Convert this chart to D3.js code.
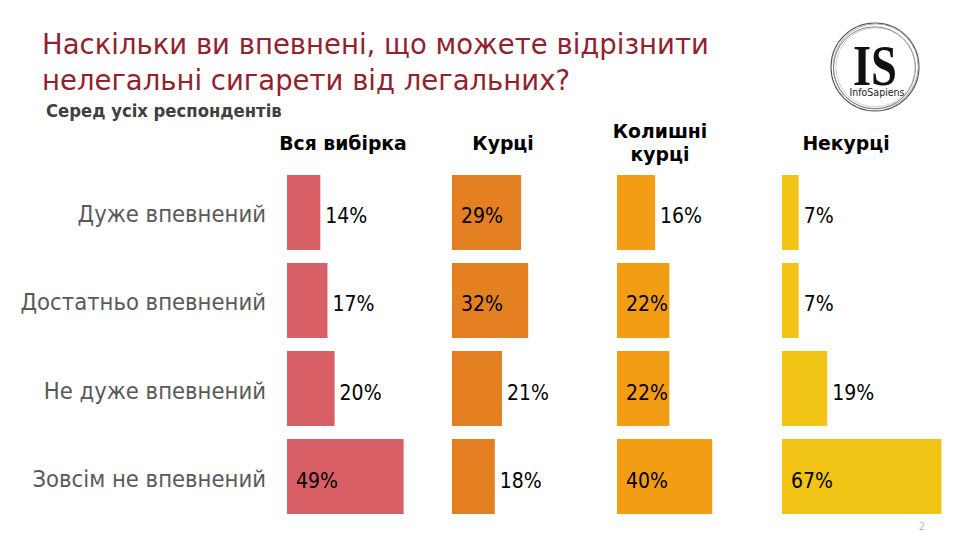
<!DOCTYPE html>
<html>
<head>
<meta charset="utf-8">
<script src="https://cdn.jsdelivr.net/npm/d3@7"></script>
<style>
  html, body { margin: 0; padding: 0; background: #fff; }
  svg { display: block; }
</style>
</head>
<body>
<svg id="chart" width="960" height="540"></svg>
<script>
// ---- data ----
const categories = ["Дуже впевнений", "Достатньо впевнений", "Не дуже впевнений", "Зовсім не впевнений"];
const groups = ["Вся вибірка", "Курці", "Колишні курці", "Некурці"];
const allRespondents = [14, 17, 20, 49];
const smokers = [29, 32, 21, 18];
const formerSmokers = [16, 22, 22, 40];
const nonSmokers = [7, 7, 19, 67];
const titleLines = ["Наскільки ви впевнені, що можете відрізнити", "нелегальні сигарети від легальних?"];
const subtitle = "Серед усіх респондентів";

// ---- style / layout ----
const seriesList = [allRespondents, smokers, formerSmokers, nonSmokers];
const colors = ["#D95F67", "#E47F22", "#F29D13", "#F1C416"];
const headerOffsets = [56, 51, 43, 64];
const condensed = "'DejaVu Sans Condensed', 'DejaVu Sans', sans-serif";

const svg = d3.select("#chart");

// Title
svg.append("g").selectAll("text").data(titleLines).join("text")
  .attr("x", 42).attr("y", (d, i) => 54 + i * 36)
  .attr("font-family", "'DejaVu Sans', sans-serif").attr("font-size", 27.5)
  .attr("fill", "#922230").text(d => d);

svg.append("text").attr("x", 46).attr("y", 117)
  .attr("font-family", condensed).attr("font-weight", "bold").attr("font-size", 18.3)
  .attr("fill", "#404040").text(subtitle);

// Scales
const x = d3.scaleLinear().domain([0, 100]).range([0, 238]);
const panelX = d3.scalePoint().domain(groups).range([287, 782]);
const y = d3.scaleBand().domain(categories).range([175, 514]).paddingInner(0.148);

// Category labels
svg.append("g").selectAll("text").data(categories).join("text")
  .attr("x", 266).attr("y", d => y(d) + y.bandwidth() / 2 + 10)
  .attr("text-anchor", "end")
  .attr("font-family", condensed).attr("font-size", 23.6)
  .attr("fill", "#595959").text(d => d);

// Panels
groups.forEach((g, gi) => {
  const x0 = panelX(g);
  const vals = seriesList[gi];
  const panel = svg.append("g");
  // header
  const lines = (g === "Колишні курці") ? g.split(" ") : [g];
  const hdr = panel.append("text")
    .attr("x", x0 + headerOffsets[gi])
    .attr("text-anchor", "middle")
    .attr("font-family", "'DejaVu Sans', sans-serif").attr("font-weight", "bold").attr("font-size", 18.8)
    .attr("fill", "#000");
  if (lines.length === 1) {
    hdr.attr("y", 150).text(g);
  } else {
    lines.forEach((l, li) => hdr.append("tspan").attr("x", x0 + headerOffsets[gi]).attr("y", 138 + li * 23).text(l));
  }
  // bars
  panel.selectAll("rect").data(vals).join("rect")
    .attr("x", x0)
    .attr("y", (d, i) => y(categories[i]))
    .attr("width", d => x(d))
    .attr("height", y.bandwidth())
    .attr("fill", colors[gi]);
  // value labels
  panel.selectAll("text.v").data(vals).join("text").attr("class", "v")
    .attr("x", d => d >= 22 ? x0 + 9 : x0 + x(d) + 5)
    .attr("y", (d, i) => y(categories[i]) + y.bandwidth() / 2 + 11)
    .attr("font-family", condensed).attr("font-size", 21)
    .attr("fill", "#000").text(d => d + "%");
});

// Logo
const logo = svg.append("g").attr("transform", "translate(875,67)");
[[44, 0, 0, "#555", 1.1], [42.5, 0.8, -0.6, "#999", 0.8], [41, -0.5, 0.8, "#777", 0.9], [39.5, 0.4, 0.3, "#bbb", 0.7]]
  .forEach(r => logo.append("circle").attr("cx", r[1]).attr("cy", r[2]).attr("r", r[0])
    .attr("fill", "none").attr("stroke", r[3]).attr("stroke-width", r[4]));
logo.append("text").attr("x", 0).attr("y", 14).attr("text-anchor", "middle")
  .attr("transform", "scale(1,1.25)")
  .attr("font-family", "'Liberation Serif', serif").attr("font-weight", "bold").attr("font-size", 46)
  .attr("textLength", 44).attr("lengthAdjust", "spacingAndGlyphs")
  .attr("fill", "#111").text("IS");
logo.append("text").attr("x", 2).attr("y", 29).attr("text-anchor", "middle")
  .attr("font-family", "'DejaVu Sans Condensed', sans-serif").attr("font-size", 10.5)
  .attr("fill", "#222").text("InfoSapiens");

// Page number
svg.append("text").attr("x", 922).attr("y", 530).attr("text-anchor", "middle")
  .attr("font-family", condensed).attr("font-size", 11).attr("fill", "#bbb").text("2");
</script>
</body>
</html>
